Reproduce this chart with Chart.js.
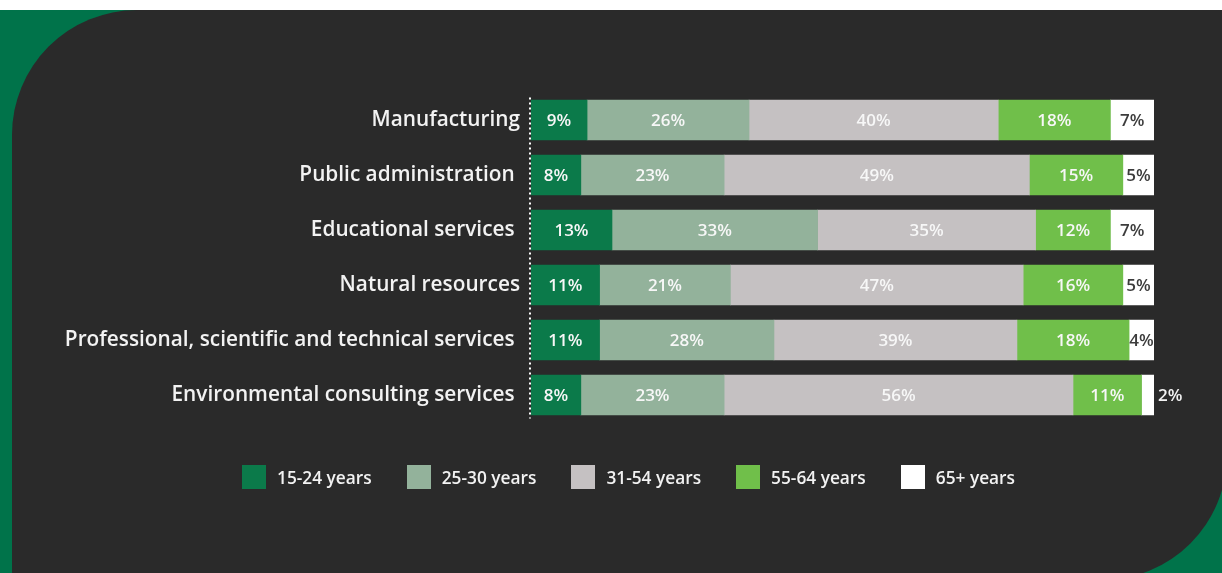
<!DOCTYPE html>
<html>
<head>
<meta charset="utf-8">
<script src="https://cdn.jsdelivr.net/npm/chart.js@4"></script>
<style>
  html, body { margin: 0; padding: 0; }
  body { width: 1222px; height: 573px; position: relative; overflow: hidden; background: #ffffff; font-family: "Open Sans", sans-serif; }
  #backdrop { position: absolute; left: 0; top: 10px; width: 1222px; height: 563px; background: #00734a; }
  #panel { position: absolute; left: 12px; top: 10px; width: 1215px; height: 570px; background: #2a2a2a; border-radius: 125px 0 125px 0; }
  #chart { position: absolute; left: 0; top: 0; }
  #legend { position: absolute; left: 242px; top: 465px; display: flex; align-items: center; }
  .item { display: flex; align-items: center; margin-right: 35px; color: #f2f2f2; font-size: 17.3px; font-weight: 600; }
  .swatch { width: 24px; height: 24px; margin-right: 11px; }
</style>
</head>
<body>
<div id="backdrop"></div>
<div id="panel"></div>
<canvas id="chart" width="1222" height="573"></canvas>
<div id="legend"></div>
<script>
"use strict";

// industries, top to bottom (trailing spaces kept as in the source labels)
const industries = [
  "Manufacturing",
  "Public administration ",
  "Educational services ",
  "Natural resources",
  "Professional, scientific and technical services ",
  "Environmental consulting services "
];

// age groups and their colours
const ageGroups = ["15-24 years", "25-30 years", "31-54 years", "55-64 years", "65+ years"];
const groupColors = ["#0b7a4a", "#93b29b", "#c5c1c2", "#70bf4a", "#ffffff"];

// share of workers per age group, in percent
const age15to24 = [9, 8, 13, 11, 11, 8];
const age25to30 = [26, 23, 33, 21, 28, 23];
const age31to54 = [40, 49, 35, 47, 39, 56];
const age55to64 = [18, 15, 12, 16, 18, 11];
const age65plus = [7, 5, 7, 5, 4, 2];

const seriesValues = [age15to24, age25to30, age31to54, age55to64, age65plus];

// dotted baseline left of the bars
const dottedAxis = {
  id: "dottedAxis",
  beforeDatasetsDraw(chart) {
    const { ctx, chartArea } = chart;
    ctx.save();
    ctx.strokeStyle = "#ffffff";
    ctx.lineWidth = 2;
    ctx.setLineDash([2, 3]);
    ctx.beginPath();
    ctx.moveTo(chartArea.left - 1, chartArea.top + 5);
    ctx.lineTo(chartArea.left - 1, chartArea.bottom - 4);
    ctx.stroke();
    ctx.restore();
  }
};

// percent labels drawn on each segment
const segmentLabels = {
  id: "segmentLabels",
  afterDatasetsDraw(chart) {
    const ctx = chart.ctx;
    ctx.save();
    ctx.font = "600 17px 'Open Sans'";
    ctx.textBaseline = "middle";
    chart.data.datasets.forEach((ds, i) => {
      const meta = chart.getDatasetMeta(i);
      meta.data.forEach((bar, j) => {
        const v = ds.data[j];
        const left = bar.base;
        const right = bar.x;
        const y = bar.y + 1;
        if (right - left < 20) {
          // too narrow, put it just outside the bar
          ctx.fillStyle = "#f2f2f2";
          ctx.textAlign = "left";
          ctx.fillText(v + "%", right + 4, y);
        } else {
          ctx.fillStyle = i === 4 ? "#3c3c3c" : "#f7f7f7";
          ctx.textAlign = "center";
          ctx.fillText(v + "%", (left + right) / 2, y);
        }
      });
    });
    ctx.restore();
  }
};

const data = {
  labels: industries,
  datasets: ageGroups.map((name, i) => ({
    label: name,
    data: seriesValues[i],
    backgroundColor: groupColors[i],
    borderWidth: 0,
    barThickness: 40
  }))
};

const config = {
  type: "bar",
  data: data,
  options: {
    indexAxis: "y",
    responsive: false,
    animation: false,
    layout: { padding: { left: 0, right: 68, top: 92.5, bottom: 150.5 } },
    plugins: { legend: { display: false }, tooltip: { enabled: false } },
    scales: {
      x: { stacked: true, min: 0, max: 100, display: false },
      y: {
        stacked: true,
        grid: { display: false, drawTicks: false },
        border: { display: false },
        ticks: {
          color: "#f2f2f2",
          padding: 11,
          font: { family: "'Open Sans'", size: 20.8, weight: "600" }
        },
        afterFit: (axis) => { axis.width = 531; }
      }
    }
  },
  plugins: [dottedAxis, segmentLabels]
};

const ageChart = new Chart(document.getElementById("chart"), config);

// legend row under the bars
const legend = document.getElementById("legend");
ageGroups.forEach((name, i) => {
  const item = document.createElement("div");
  item.className = "item";
  const sw = document.createElement("div");
  sw.className = "swatch";
  sw.style.background = groupColors[i];
  const txt = document.createElement("span");
  txt.textContent = name;
  item.appendChild(sw);
  item.appendChild(txt);
  legend.appendChild(item);
});
</script>
</body>
</html>
